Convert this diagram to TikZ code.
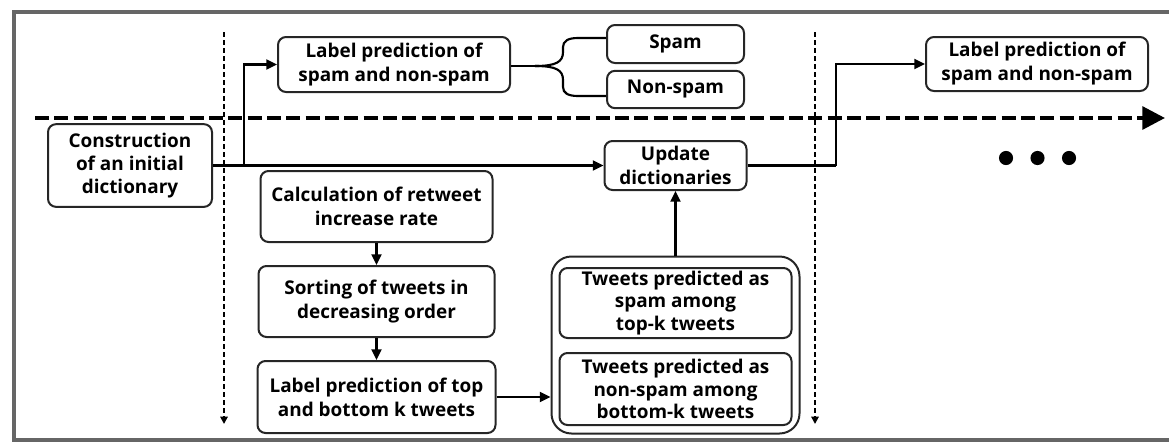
\documentclass[tikz,border=0pt]{standalone}
\usepackage{fontspec}
\setmainfont{Open Sans}
\usetikzlibrary{arrows.meta}
\begin{document}
\begin{tikzpicture}[x=0.75pt,y=-0.75pt,
  box/.style={draw=black!85, line width=1.5pt, rounded corners=6pt, fill=white,
    align=center, inner sep=0pt, font=\bfseries\fontsize{14.2}{18}\selectfont},
  tight/.style={font=\bfseries\fontsize{14.2}{17}\selectfont},
  grp/.style={draw=black!85, line width=1.5pt, rounded corners=15pt, inner sep=0pt},
  conn/.style={draw=black, line width=1.6pt},
  arr/.style={conn, -{Triangle[length=8pt,width=7.5pt]}},
  mainarr/.style={draw=black, line width=3pt, dash pattern=on 10.5pt off 4pt,
    -{Triangle[length=17pt,width=17pt]}},
  dotarr/.style={draw=black, line width=1.5pt, dash pattern=on 4pt off 2pt,
    -{Triangle[length=5.5pt,width=5.5pt]}},
  frame/.style={draw=black!60, line width=3pt}
]
\useasboundingbox (0,0) rectangle (1169,443);
% frame
\coordinate (f1) at (1172,12);
\coordinate (f2) at (14,12);
\coordinate (f3) at (14,440);
\coordinate (f4) at (1172,440);
\draw[frame] (f1) -- (f2) -- (f3) -- (f4);

% main dashed time axis
\coordinate (ms) at (35,118);
\coordinate (me) at (1165,118);
\draw[mainarr] (ms) -- (me);

% dotted separators
\coordinate (d1t) at (224,32);
\coordinate (d1b) at (224,424);
\coordinate (d2t) at (815,32);
\coordinate (d2b) at (815,424);
\draw[dotarr] (d1t) -- (d1b);
\draw[dotarr] (d2t) -- (d2b);

% nodes
\node[box, tight, minimum width=123pt, minimum height=62pt] (init) at (130,165.5)
  {Construction\\of an initial\\dictionary};
\node[box, minimum width=174pt, minimum height=41.25pt] (lab1) at (394,64.5)
  {Label prediction of\\spam and non-spam};
\node[box, minimum width=102.75pt, minimum height=28.5pt] (spam) at (675.5,44)
  {Spam};
\node[box, minimum width=102.75pt, minimum height=28pt] (nonspam) at (675.5,89.5)
  {Non-spam};
\node[box, minimum width=106.5pt, minimum height=36.75pt] (upd) at (675.5,165.5)
  {Update\\dictionaries};
\node[box, minimum width=166.5pt, minimum height=40.5pt] (lab2) at (1037,64)
  {Label prediction of\\spam and non-spam};
\node[box, minimum width=174pt, minimum height=53.25pt] (calc) at (376.5,206.5)
  {Calculation of retweet\\increase rate};
\node[box, minimum width=177pt, minimum height=53.25pt] (sort) at (376.5,301.5)
  {Sorting of tweets in\\decreasing order};
\node[box, minimum width=178.5pt, minimum height=54pt] (lbt) at (376.5,397)
  {Label prediction of top\\and bottom k tweets};
\node[grp, minimum width=186pt, minimum height=132.75pt] (group) at (675.5,345) {};
\node[box, tight, minimum width=174pt, minimum height=52.5pt] (in1) at (675.5,303)
  {Tweets predicted as\\spam among\\top-k tweets};
\node[box, tight, minimum width=174pt, minimum height=54pt] (in2) at (675.5,389)
  {Tweets predicted as\\non-spam among\\bottom-k tweets};

% brace from lab1 to spam / non-spam
\coordinate (bm) at (535,66);
\draw[conn] (lab1.east |- bm) -- (bm);
\draw[conn] (bm) .. controls (556,66) and (563,62) .. (563,52) -- (563,47)
  .. controls (563,41) and (568,38) .. (578,38) -- (spam.west |- 0,38);
\draw[conn] (bm) .. controls (556,66) and (563,70) .. (563,80) -- (563,87)
  .. controls (563,93) and (568,96) .. (578,96) -- (nonspam.west |- 0,96);

% connectors
\coordinate (j1) at (244,165.5);
\draw[conn] (init.east) -- (j1);
\draw[arr] (j1) |- (lab1.west);
\draw[arr] (j1) -- (upd.west);
\coordinate (j2) at (836,165.5);
\draw[conn] (upd.east) -- (j2);
\draw[arr] (j2) |- (lab2.west);
\draw[arr] (group.north) -- (upd.south);
\draw[arr] (calc.south) -- (sort.north);
\draw[arr] (sort.south) -- (lbt.north);
\draw[arr] (lbt.east) -- (lbt.east -| group.west);

% ellipsis dots
\fill (1006,158) circle[radius=5.3pt];
\fill (1037.5,158) circle[radius=5.3pt];
\fill (1069,158) circle[radius=5.3pt];
\end{tikzpicture}
\end{document}
